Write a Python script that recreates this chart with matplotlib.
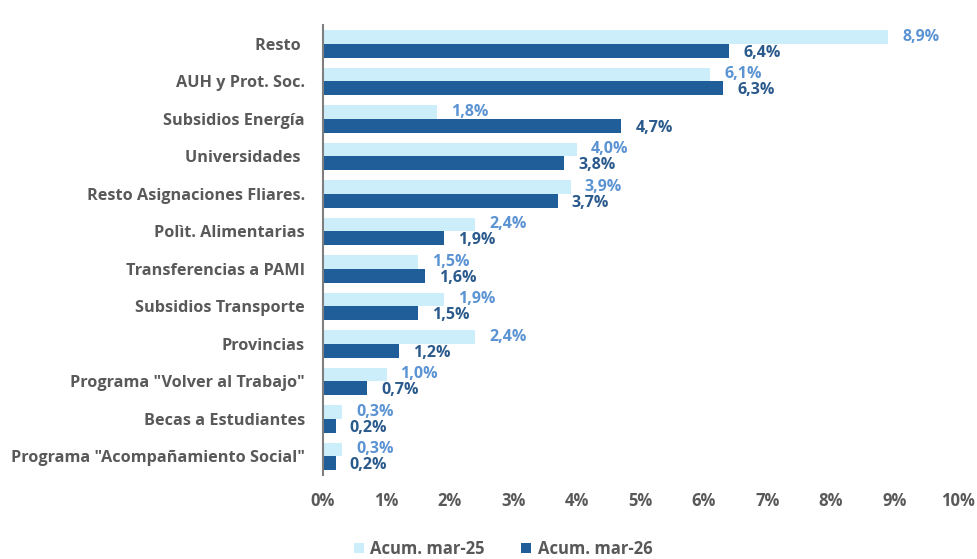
import numpy as np
import matplotlib.pyplot as plt
from matplotlib import font_manager

fams = {f.name for f in font_manager.fontManager.ttflist}
font = 'Liberation Sans Narrow' if 'Liberation Sans Narrow' in fams else 'Open Sans'
plt.rcParams['font.family'] = [font, 'DejaVu Sans']

categories = ['Resto ', 'AUH y Prot. Soc.', 'Subsidios Energía', 'Universidades ',
              'Resto Asignaciones Fliares.', 'Polìt. Alimentarias', 'Transferencias a PAMI',
              'Subsidios Transporte', 'Provincias', 'Programa "Volver al Trabajo"',
              'Becas a Estudiantes', 'Programa "Acompañamiento Social"']
mar25 = [8.9, 6.1, 1.8, 4.0, 3.9, 2.4, 1.5, 1.9, 2.4, 1.0, 0.3, 0.3]
mar26 = [6.4, 6.3, 4.7, 3.8, 3.7, 1.9, 1.6, 1.5, 1.2, 0.7, 0.2, 0.2]
xticks = [0, 1, 2, 3, 4, 5, 6, 7, 8, 9, 10]

light = '#CCEEFB'
dark = '#1F5E99'
light_txt = '#5B93D3'
dark_txt = '#2A5A8C'
grey = '#595959'

fig = plt.figure(figsize=(9.77, 5.59), dpi=100)
ax = fig.add_axes([0.3306, 0.150, 0.650, 0.805])

y = np.arange(len(categories))
h = 0.37
ax.barh(y - h / 2, mar25, height=h, color=light, label='Acum. mar-25')
ax.barh(y + h / 2, mar26, height=h, color=dark, label='Acum. mar-26')

for yi, v in zip(y, mar25):
    ax.text(v + 0.22, yi - h / 2, f'{v:.1f}%'.replace('.', ','), va='center', ha='left',
            color=light_txt, fontsize=11.5, fontweight='bold')
for yi, v in zip(y, mar26):
    ax.text(v + 0.22, yi + h / 2 + 0.05, f'{v:.1f}%'.replace('.', ','), va='center', ha='left',
            color=dark_txt, fontsize=11.5, fontweight='bold')

ax.set_ylim(len(categories) - 0.5, -0.5)
ax.set_xlim(0, 10)
ax.set_yticks(y)
ax.set_yticklabels(categories, fontsize=11.7, fontweight='bold', color=grey)
ax.set_xticks(xticks)
ax.set_xticklabels([f'{t}%' for t in xticks], fontsize=12, fontweight='bold', color=grey)
ax.tick_params(axis='both', length=0)
ax.tick_params(axis='x', pad=12)
ax.tick_params(axis='y', pad=13)

for s in ['top', 'right', 'bottom']:
    ax.spines[s].set_visible(False)
ax.spines['left'].set_color('#7F7F7F')
ax.spines['left'].set_linewidth(1.5)

leg = fig.legend(loc='lower center', bbox_to_anchor=(0.515, -0.025), ncol=2, frameon=False,
                 fontsize=12, handlelength=0.6, handleheight=0.6, columnspacing=2.2,
                 handletextpad=0.4)
for t in leg.get_texts():
    t.set_color(grey)
    t.set_fontweight('bold')

fig.savefig('out.png', dpi=100)
